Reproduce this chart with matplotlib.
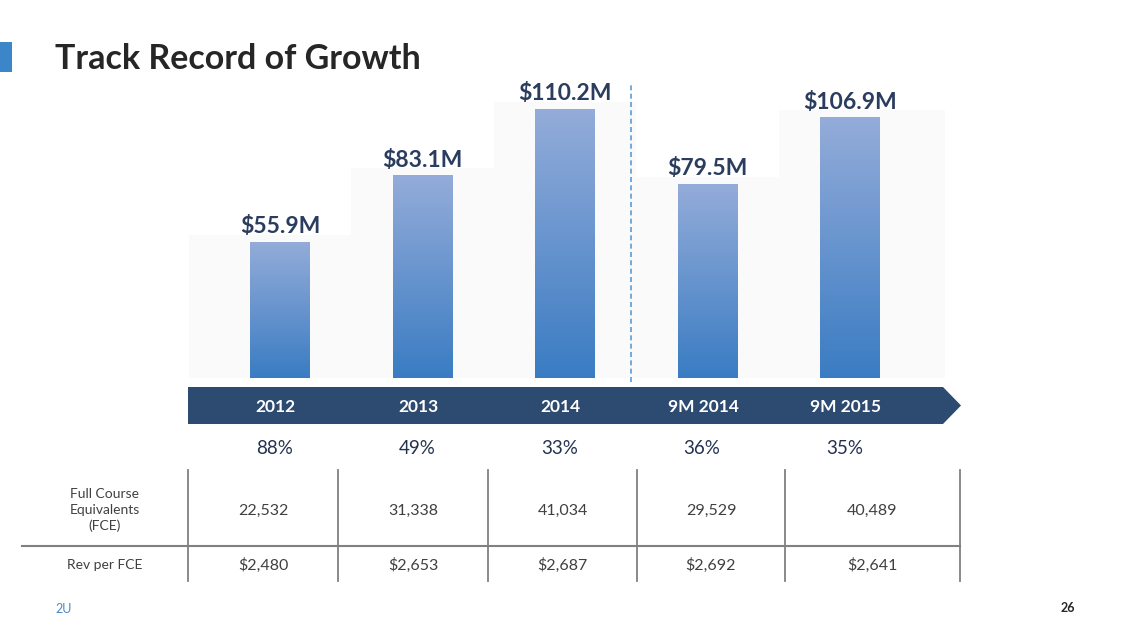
import numpy as np
import matplotlib
matplotlib.use("Agg")
import matplotlib.pyplot as plt
from matplotlib.patches import Polygon, Rectangle
from matplotlib import transforms
from matplotlib.colors import LinearSegmentedColormap

# ---- data ----
categories = ["2012", "2013", "2014", "9M 2014", "9M 2015"]
revenue = [55.9, 83.1, 110.2, 79.5, 106.9]          # $M
revenue_labels = ["$55.9M", "$83.1M", "$110.2M", "$79.5M", "$106.9M"]
growth = ["88%", "49%", "33%", "36%", "35%"]
fce = ["22,532", "31,338", "41,034", "29,529", "40,489"]
rev_per_fce = ["$2,480", "$2,653", "$2,687", "$2,692", "$2,641"]
row_labels = ["Full Course\nEquivalents\n(FCE)", "Rev per FCE"]

W, H = 1129, 635
fig = plt.figure(figsize=(W / 100, H / 100), dpi=100)
fig.patch.set_facecolor("white")
FONT = "Lato"
NAVY = "#2b3d5e"

# overlay axes in pixel coordinates
ov = fig.add_axes([0, 0, 1, 1], zorder=0)
ov.set_xlim(0, W)
ov.set_ylim(H, 0)
ov.axis("off")

# main bar axes
x = np.arange(len(categories))
px_per_unit = 142.5
left_px, right_px = 189, 945
xmin = (left_px - 280) / px_per_unit
xmax = (right_px - 280) / px_per_unit
px_per_M = 2.44
bottom_px, top_px = 378, 80
ymax = (bottom_px - top_px) / px_per_M
ax = fig.add_axes([left_px / W, (H - bottom_px) / H, (right_px - left_px) / W,
                   (bottom_px - top_px) / H], zorder=1)
ax.set_xlim(xmin, xmax)
ax.set_ylim(0, ymax)
ax.axis("off")
ax.patch.set_alpha(0)

# faint background panels
edges = [xmin] + [i + 0.5 for i in range(len(categories) - 1)] + [xmax]
for i, v in enumerate(revenue):
    ax.add_patch(Rectangle((edges[i], 0), edges[i + 1] - edges[i], v + 2.8,
                           facecolor="#fafafa", edgecolor="none", zorder=0))

# bars with gradient
bars = ax.bar(x, revenue, width=0.415, color="none", edgecolor="none", zorder=2)
cmap = LinearSegmentedColormap.from_list("g", ["#3a7cc3", "#94acd9"])
grad = np.linspace(0, 1, 256).reshape(-1, 1)
for b in bars:
    im = ax.imshow(grad, cmap=cmap, origin="lower", aspect="auto",
                   extent=[b.get_x(), b.get_x() + b.get_width(), 0, b.get_height()],
                   zorder=2)
    im.set_clip_path(b)
ax.set_xlim(xmin, xmax)
ax.set_ylim(0, ymax)

for xi, v, lab in zip(x, revenue, revenue_labels):
    ax.text(xi, v + 1.9, lab, ha="center", va="bottom", fontsize=16.5,
            fontweight="bold", color=NAVY, family=FONT, zorder=3)

# divider
ax.plot([2.46, 2.46], [-1.5, 121.5], color="#5b9bd5", lw=1.2,
        linestyle=(0, (3, 2)), clip_on=False, zorder=3)

# banner arrow
ov.add_patch(Polygon([[188, 387], [943, 387], [961, 405.5], [943, 424], [188, 424]],
                     closed=True, facecolor="#2d4a70", edgecolor="none"))
blend = transforms.blended_transform_factory(ax.transData, ov.transData)
for xi, c in zip(x, categories):
    ov.text(xi - 0.03, 407, c, transform=blend, ha="center", va="center",
            color="white", fontsize=12.5, fontweight="bold", family=FONT)
for xi, g in zip(x, growth):
    ov.text(xi - 0.04, 448, g, transform=blend, ha="center", va="center",
            color="#23324f", fontsize=13.5, family=FONT)

# title
ov.add_patch(Rectangle((0, 42), 12, 30, facecolor="#3b86c8", edgecolor="none"))
ov.text(55, 59, "Track Record of Growth", ha="left", va="center",
        fontsize=24.5, fontweight="bold", color="#262626", family=FONT)

# table
col_edges = [188, 338, 488, 637, 785, 960]
TG = "#808080"
for cx in col_edges:
    ov.plot([cx, cx], [470, 581], color=TG, lw=1.3)
ov.plot([22, 960], [546, 546], color=TG, lw=1.5)
TXT = "#404040"
ov.text(105, 510, row_labels[0], ha="center", va="center", fontsize=10,
        color=TXT, family=FONT, linespacing=1.35)
ov.text(105, 565, row_labels[1], ha="center", va="center", fontsize=10,
        color=TXT, family=FONT)
for i in range(len(categories)):
    cx = (col_edges[i] + col_edges[i + 1]) / 2
    ov.text(cx, 511, fce[i], ha="center", va="center", fontsize=11.5,
            color=TXT, family=FONT)
    ov.text(cx, 565, rev_per_fce[i], ha="center", va="center", fontsize=11.5,
            color=TXT, family=FONT)

# footer
ov.text(55, 609, "2U", ha="left", va="center", fontsize=9, color="#4a86c8",
        family=FONT)
ov.text(1068, 608, "26", ha="center", va="center", fontsize=9, color="#262626",
        family=FONT, fontweight="bold")

fig.savefig("out.png", dpi=100, facecolor="white")
